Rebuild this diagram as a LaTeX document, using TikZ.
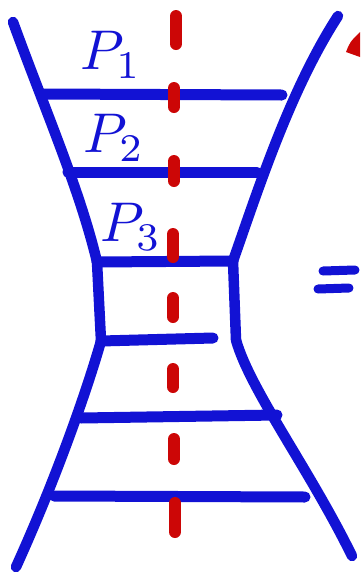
\documentclass[tikz,border=0pt]{standalone}
\usepackage{tikz}
\definecolor{penblue}{HTML}{1212D4}
\definecolor{penred}{HTML}{CC0606}

\begin{document}
\begin{tikzpicture}[
  x=1pt, y=-1pt,
  bluestroke/.style={draw=penblue, line width=10.5pt, line cap=round, line join=round},
  rung/.style={bluestroke, line width=11pt},
  redcut/.style={draw=penred, line width=12pt, line cap=round},
  handtag/.style={text=penblue, scale=5.6, inner sep=0pt}
]
\useasboundingbox (0,0) rectangle (360,582);

% corners of the box in the waist
\coordinate (tl) at (97,262);
\coordinate (tr) at (233,261);
\coordinate (bl) at (101,341);
\coordinate (br) at (236,340);

\draw[bluestroke] (13,22) .. controls (45,110) and (80,190) .. (tl);
\draw[bluestroke] (338,16) .. controls (290,90) and (258,190) .. (tr);
\draw[bluestroke] (tl) -- (bl);
\draw[bluestroke] (tr) -- (br);
\draw[bluestroke] (bl) .. controls (90,380) and (60,470) .. (16,567);
\draw[bluestroke] (br) .. controls (250,390) and (310,470) .. (352,556);

\draw[rung] (41,94) -- (282,95);
\draw[rung] (68,172) -- (257,172);
\draw[rung] (tl) -- (tr);
\draw[rung] (bl) -- (213,338);
\draw[rung] (81,418) -- (277,415);
\draw[rung] (54,496) -- (305,497);

\node[handtag] (p1) at (111,55) {$P_1$};
\node[handtag] (p2) at (114,138) {$P_2$};
\node[handtag] (p3) at (131,227) {$P_3$};

% equals sign
\draw[bluestroke, line width=9pt] (323,271) -- (355,270);
\draw[bluestroke, line width=9pt] (318,289) -- (349,288);

\foreach \ya/\yb/\xx in {16/44/176, 88/107/174, 161/181/174, 234/257/173,
  298/317/173, 369/387/173, 439/459/174, 503/532/175}
  \draw[redcut] (\xx,\ya) -- (\xx,\yb);

\fill[penred] (346,52) .. controls (350,42) .. (360,32) -- (360,57) -- cycle;

\end{tikzpicture}
\end{document}
